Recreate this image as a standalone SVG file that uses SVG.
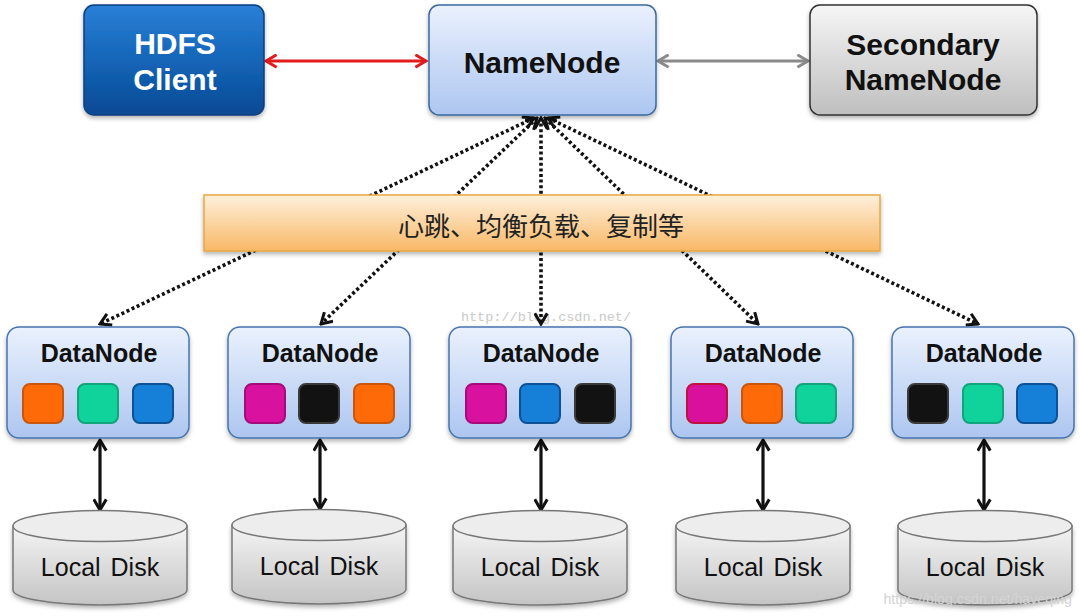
<svg xmlns="http://www.w3.org/2000/svg" width="1080" height="616" viewBox="0 0 1080 616">
  <defs>
    <style>
      .title { font-family: "Liberation Sans", Arial, sans-serif; font-weight: bold; font-size: 30px; text-anchor: middle; }
      .dn-title { font-family: "Liberation Sans", Arial, sans-serif; font-weight: bold; font-size: 25px; text-anchor: middle; fill: #111; }
      .disk-label { font-family: "Liberation Sans", Arial, sans-serif; font-size: 25px; text-anchor: middle; fill: #111; word-spacing: 3px; }
      .cjk { font-family: "Noto Sans CJK SC", "Noto Sans", sans-serif; font-size: 26px; text-anchor: middle; fill: #222; }
      .dn-box { fill: url(#gName); stroke: #4774ad; stroke-width: 1.5; }
      .blk { stroke-width: 2; }
      .orange { fill: #ff6a08; stroke: #c9560a; }
      .teal { fill: #10d39c; stroke: #12a47a; }
      .blue { fill: #1680d8; stroke: #0d5296; }
      .magenta { fill: #d8129f; stroke: #a50c7a; }
      .magenta2 { fill: #d8109c; stroke: #c0103e; }
      .black { fill: #121212; stroke: #3a3a3a; }
      .dotted { fill: none; stroke: #111; stroke-width: 3.6; stroke-dasharray: 3 2.6; marker-start: url(#mBlk); marker-end: url(#mBlk); }
      .disk-arrow { fill: none; stroke: #111; stroke-width: 3.2; marker-start: url(#mBlk); marker-end: url(#mBlk); }
      .disk-body { fill: url(#gDisk); stroke: #777; stroke-width: 1.5; }
      .disk-top { fill: #ededed; stroke: #777; stroke-width: 1.5; }
    </style>
    <linearGradient id="gHdfs" x1="0" y1="0" x2="0" y2="1">
      <stop offset="0" stop-color="#2a80d6"/>
      <stop offset="0.5" stop-color="#1465b8"/>
      <stop offset="1" stop-color="#0a4a94"/>
    </linearGradient>
    <linearGradient id="gName" x1="0" y1="0" x2="0" y2="1">
      <stop offset="0" stop-color="#eaf1fd"/>
      <stop offset="1" stop-color="#adc6f0"/>
    </linearGradient>
    <linearGradient id="gSec" x1="0" y1="0" x2="0" y2="1">
      <stop offset="0" stop-color="#f6f6f6"/>
      <stop offset="1" stop-color="#bfbfbf"/>
    </linearGradient>
    <linearGradient id="gBanner" x1="0" y1="0" x2="0" y2="1">
      <stop offset="0" stop-color="#fef0dc"/>
      <stop offset="1" stop-color="#f8b866"/>
    </linearGradient>
    <linearGradient id="gDisk" x1="0" y1="0" x2="0" y2="1">
      <stop offset="0" stop-color="#f4f4f4"/>
      <stop offset="1" stop-color="#c4c4c4"/>
    </linearGradient>
    <filter id="shadow" x="-10%" y="-10%" width="120%" height="130%">
      <feDropShadow dx="0" dy="2.5" stdDeviation="2" flood-color="#000" flood-opacity="0.3"/>
    </filter>
    <marker id="mRed" viewBox="0 0 12 12" refX="10.5" refY="6" markerWidth="15" markerHeight="15" markerUnits="userSpaceOnUse" orient="auto-start-reverse">
      <path d="M2,1 L10.5,6 L2,11" fill="none" stroke="#e21b1b" stroke-width="2.4"/>
    </marker>
    <marker id="mGray" viewBox="0 0 12 12" refX="10.5" refY="6" markerWidth="15" markerHeight="15" markerUnits="userSpaceOnUse" orient="auto-start-reverse">
      <path d="M2,1 L10.5,6 L2,11" fill="none" stroke="#8a8a8a" stroke-width="2.4"/>
    </marker>
    <marker id="mBlk" viewBox="0 0 12 12" refX="10.5" refY="6" markerWidth="15" markerHeight="15" markerUnits="userSpaceOnUse" orient="auto-start-reverse">
      <path d="M2,1 L10.5,6 L2,11" fill="none" stroke="#111" stroke-width="2.4"/>
    </marker>
  </defs>

  <rect x="0" y="0" width="1080" height="616" fill="#ffffff"/>

  <text x="546" y="321" font-family="Liberation Mono, monospace" font-size="13.5" fill="#c9c9c9" text-anchor="middle">http://blog.csdn.net/</text>

  <g id="connectors">
    <line x1="266" y1="61" x2="426" y2="61" stroke="#e21b1b" stroke-width="3.2" marker-start="url(#mRed)" marker-end="url(#mRed)"/>
    <line x1="658" y1="61" x2="808" y2="61" stroke="#8a8a8a" stroke-width="3.2" marker-start="url(#mGray)" marker-end="url(#mGray)"/>
    <line class="dotted" x1="534" y1="118" x2="100" y2="324"/>
    <line class="dotted" x1="537" y1="118" x2="321" y2="324"/>
    <line class="dotted" x1="541" y1="118" x2="541" y2="324"/>
    <line class="dotted" x1="545" y1="118" x2="758" y2="324"/>
    <line class="dotted" x1="548" y1="118" x2="978" y2="324"/>
    <line class="disk-arrow" x1="100" y1="440" x2="100" y2="510"/>
    <line class="disk-arrow" x1="320" y1="440" x2="320" y2="509"/>
    <line class="disk-arrow" x1="541" y1="440" x2="541" y2="510"/>
    <line class="disk-arrow" x1="763" y1="440" x2="763" y2="510"/>
    <line class="disk-arrow" x1="984" y1="440" x2="984" y2="510"/>
  </g>

  <g id="hdfs-client">
    <rect x="84" y="5" width="180" height="110" rx="10" fill="url(#gHdfs)" stroke="#0a3f80" stroke-width="1.5" filter="url(#shadow)"/>
    <text class="title" x="175" y="54" fill="#ffffff">HDFS</text>
    <text class="title" x="175" y="90" fill="#ffffff">Client</text>
  </g>

  <g id="namenode">
    <rect x="429" y="5" width="227" height="110" rx="10" fill="url(#gName)" stroke="#3b6a9e" stroke-width="1.5" filter="url(#shadow)"/>
    <text class="title" x="542" y="73" fill="#111">NameNode</text>
  </g>

  <g id="secondary-namenode">
    <rect x="810" y="5" width="227" height="110" rx="10" fill="url(#gSec)" stroke="#333" stroke-width="1.5" filter="url(#shadow)"/>
    <text class="title" x="923" y="55" fill="#111">Secondary</text>
    <text class="title" x="923" y="90" fill="#111">NameNode</text>
  </g>

  <g id="banner">
    <rect x="204" y="195" width="676" height="56" fill="url(#gBanner)" stroke="#e7a843" stroke-width="1.5" filter="url(#shadow)"/>
    <text class="cjk" x="541" y="236">心跳、均衡负载、复制等</text>
  </g>

  <g id="datanode-1">
    <rect class="dn-box" x="7" y="327" width="182" height="111" rx="12" filter="url(#shadow)"/>
    <text class="dn-title" x="99" y="362">DataNode</text>
    <rect class="blk orange" x="23" y="384" width="40" height="39" rx="7"/>
    <rect class="blk teal" x="78" y="384" width="40" height="39" rx="7"/>
    <rect class="blk blue" x="133" y="384" width="40" height="39" rx="7"/>
  </g>

  <g id="datanode-2">
    <rect class="dn-box" x="228" y="327" width="182" height="111" rx="12" filter="url(#shadow)"/>
    <text class="dn-title" x="320" y="362">DataNode</text>
    <rect class="blk magenta" x="245" y="384" width="40" height="39" rx="7"/>
    <rect class="blk black" x="299" y="384" width="40" height="39" rx="7"/>
    <rect class="blk orange" x="354" y="384" width="40" height="39" rx="7"/>
  </g>

  <g id="datanode-3">
    <rect class="dn-box" x="449" y="327" width="182" height="111" rx="12" filter="url(#shadow)"/>
    <text class="dn-title" x="541" y="362">DataNode</text>
    <rect class="blk magenta" x="466" y="384" width="40" height="39" rx="7"/>
    <rect class="blk blue" x="520" y="384" width="40" height="39" rx="7"/>
    <rect class="blk black" x="575" y="384" width="40" height="39" rx="7"/>
  </g>

  <g id="datanode-4">
    <rect class="dn-box" x="671" y="327" width="182" height="111" rx="12" filter="url(#shadow)"/>
    <text class="dn-title" x="763" y="362">DataNode</text>
    <rect class="blk magenta2" x="687" y="384" width="40" height="39" rx="7"/>
    <rect class="blk orange" x="742" y="384" width="40" height="39" rx="7"/>
    <rect class="blk teal" x="796" y="384" width="40" height="39" rx="7"/>
  </g>

  <g id="datanode-5">
    <rect class="dn-box" x="892" y="327" width="182" height="111" rx="12" filter="url(#shadow)"/>
    <text class="dn-title" x="984" y="362">DataNode</text>
    <rect class="blk black" x="908" y="384" width="40" height="39" rx="7"/>
    <rect class="blk teal" x="963" y="384" width="40" height="39" rx="7"/>
    <rect class="blk blue" x="1017" y="384" width="40" height="39" rx="7"/>
  </g>

  <g id="disk-1">
    <path class="disk-body" d="M13,526 L13,590 A87,15 0 0 0 187,590 L187,526 Z" filter="url(#shadow)"/>
    <ellipse class="disk-top" cx="100" cy="526" rx="87" ry="15.5"/>
    <text class="disk-label" x="100" y="576">Local Disk</text>
  </g>
  <g id="disk-2">
    <path class="disk-body" d="M232,525 L232,589 A87,15 0 0 0 406,589 L406,525 Z" filter="url(#shadow)"/>
    <ellipse class="disk-top" cx="319" cy="525" rx="87" ry="15.5"/>
    <text class="disk-label" x="319" y="575">Local Disk</text>
  </g>
  <g id="disk-3">
    <path class="disk-body" d="M453,526 L453,590 A87,15 0 0 0 627,590 L627,526 Z" filter="url(#shadow)"/>
    <ellipse class="disk-top" cx="540" cy="526" rx="87" ry="15.5"/>
    <text class="disk-label" x="540" y="576">Local Disk</text>
  </g>
  <g id="disk-4">
    <path class="disk-body" d="M676,526 L676,590 A87,15 0 0 0 850,590 L850,526 Z" filter="url(#shadow)"/>
    <ellipse class="disk-top" cx="763" cy="526" rx="87" ry="15.5"/>
    <text class="disk-label" x="763" y="576">Local Disk</text>
  </g>
  <g id="disk-5">
    <path class="disk-body" d="M898,526 L898,590 A87,15 0 0 0 1072,590 L1072,526 Z" filter="url(#shadow)"/>
    <ellipse class="disk-top" cx="985" cy="526" rx="87" ry="15.5"/>
    <text class="disk-label" x="985" y="576">Local Disk</text>
  </g>

  <text x="1072" y="604" font-family="Liberation Sans, Arial, sans-serif" font-size="14.2" fill="#d4d4d4" text-anchor="end">https://blog.csdn.net/haveqing</text>
</svg>
